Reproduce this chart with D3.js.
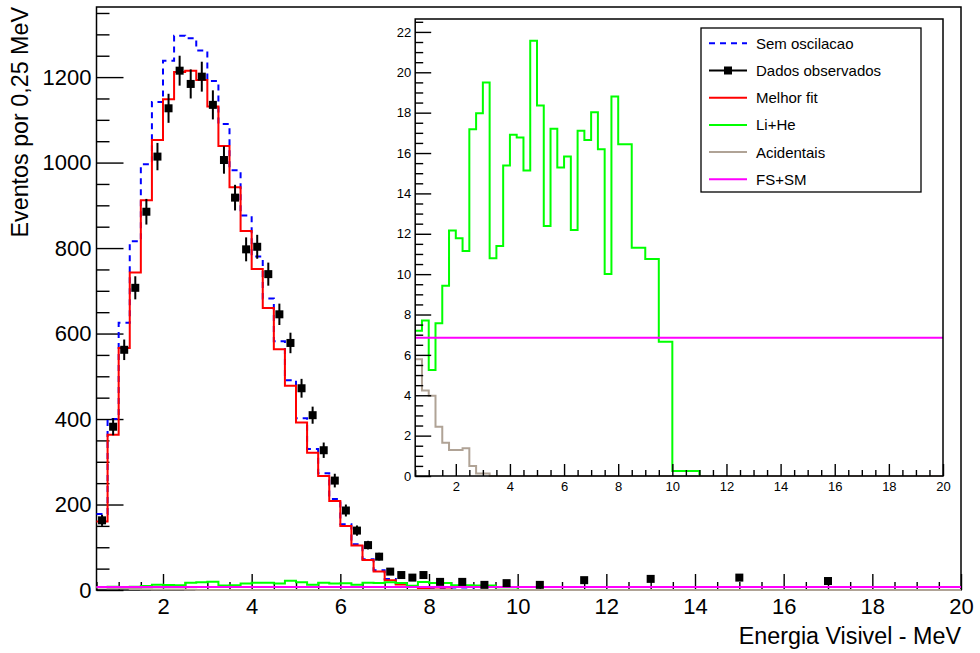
<!DOCTYPE html>
<html>
<head>
<meta charset="utf-8">
<style>
  body { margin: 0; background: #fff; }
  svg text { font-family: "Liberation Sans", Arial, sans-serif; fill: #000; }
</style>
</head>
<body>
<div id="chart"></div>
<script src="https://d3js.org/d3.v7.min.js"></script>
<script>
  // bin edges in MeV (0.25 MeV bins up to 8 MeV, wider after)
  const edges = [0.5, 0.75, 1, 1.25, 1.5, 1.75, 2, 2.25, 2.5, 2.75, 3, 3.25, 3.5, 3.75, 4, 4.25,
    4.5, 4.75, 5, 5.25, 5.5, 5.75, 6, 6.25, 6.5, 6.75, 7, 7.25, 7.5, 7.75, 8,
    8.5, 9, 9.5, 10, 11, 12, 14, 16, 18, 20];

  const semOscilacao = [178, 400, 625, 816, 996, 1142, 1238, 1297, 1291, 1262, 1191, 1090, 982, 876, 780,
    682, 582, 491, 402, 330, 273, 213, 154, 107, 72, 46, 26, 15, 9, 5, 2, 1, 0, 0, 0, 0, 0, 0, 0, 0];
  const melhorFit = [160, 363, 566, 743, 912, 1053, 1148, 1212, 1215, 1193, 1131, 1039, 942, 840, 751,
    660, 563, 478, 392, 321, 267, 208, 150, 104, 70, 43, 23, 13, 7, 4, 1, 0, 0, 0, 0, 0, 0, 0, 0, 0];
  const dados = [163, 382, 562, 707, 885, 1014, 1127, 1215, 1184, 1201, 1135, 1006, 918, 797, 803,
    739, 645, 578, 472, 409, 327, 256, 186, 139, 105, 78, 43, 35, 29, 35, 19, 19, 12, 16, 12, 23, 26, 29, 21, null];
  const dadosErro = [13, 20, 24, 27, 30, 32, 34, 35, 34, 35, 34, 32, 30, 28, 28, 27, 25, 24, 22, 20,
    18, 16, 14, 12, 10, 9, 7, 6, 5, 6, 4, 4, 3, 4, 3, 5, 5, 5, 5, 0];
  const liHe = [7.2, 7.7, 5.25, 7.57, 9.43, 12.16, 11.78, 11.15, 17.18, 17.97, 19.49, 10.79, 11.4, 15.38,
    16.9, 16.77, 15.13, 21.56, 18.35, 12.39, 17.2, 15.28, 15.83, 12.19, 17.1, 16.65, 18.02, 16.19, 10.01,
    18.8, 16.44, 11.31, 10.75, 6.65, 0.25, 0, 0, 0, 0, 0];
  const acidentais = [5.78, 4.23, 3.98, 2.44, 1.65, 1.29, 1.29, 1.37, 0.5, 0.13, 0.13, 0, 0, 0, 0, 0, 0,
    0, 0, 0, 0, 0, 0, 0, 0, 0, 0, 0, 0, 0, 0, 0, 0, 0, 0, 0, 0, 0, 0, 0];
  const fsSm = [6.85, 6.85, 6.85, 6.85, 6.85, 6.85, 6.85, 6.85, 6.85, 6.85, 6.85, 6.85, 6.85, 6.85,
    6.85, 6.85, 6.85, 6.85, 6.85, 6.85, 6.85, 6.85, 6.85, 6.85, 6.85, 6.85, 6.85, 6.85, 6.85, 6.85,
    6.85, 6.85, 6.85, 6.85, 6.85, 6.85, 6.85, 6.85, 6.85, 6.85];

  const mainXTicks = [2, 4, 6, 8, 10, 12, 14, 16, 18, 20];
  const mainYTicks = [0, 200, 400, 600, 800, 1000, 1200];
  const insetXTicks = [2, 4, 6, 8, 10, 12, 14, 16, 18, 20];
  const insetYTicks = [0, 2, 4, 6, 8, 10, 12, 14, 16, 18, 20, 22];

  const legendItems = [
    { label: "Sem oscilacao", color: "#0000ff", dash: "6,5", marker: false },
    { label: "Dados observados", color: "#000", dash: null, marker: true },
    { label: "Melhor fit", color: "#ff0000", dash: null, marker: false },
    { label: "Li+He", color: "#00ff00", dash: null, marker: false },
    { label: "Acidentais", color: "#b0a396", dash: null, marker: false },
    { label: "FS+SM", color: "#ff00ff", dash: null, marker: false }
  ];

  const W = 980, H = 653;
  const svg = d3.select("#chart").append("svg")
    .attr("width", W).attr("height", H);

  // scales
  const x = d3.scaleLinear().domain([0.5, 20]).range([96.5, 961]);
  const y = d3.scaleLinear().domain([0, 1364]).range([590, 7]);
  const xi = d3.scaleLinear().domain([0.5, 20]).range([415.2, 943]);
  const yi = d3.scaleLinear().domain([0, 22.64]).range([476, 19]);

  const histPath = (values, sx, sy) => {
    const pts = values.map((v, i) => [edges[i], v]);
    pts.push([edges[edges.length - 1], values[values.length - 1]]);
    const line = d3.line()
      .x(d => sx(d[0]))
      .y(d => sy(d[1]))
      .curve(d3.curveStepAfter);
    return line(pts);
  };

  const drawAxes = (g, sx, sy, xTicks, yTicks, opt) => {
    const [x0, x1] = sx.range();
    const [y0, y1] = sy.range();
    const xMinor = d3.range(0.5, 20.001, 0.5).filter(v => !xTicks.includes(v));
    const yMax = sy.domain()[1];
    const yMinor = d3.range(0, yMax, opt.yMinorStep).filter(v => !yTicks.includes(v));

    const ax = g.append("g").attr("transform", "translate(0," + y0 + ")");
    ax.append("g").call(d3.axisBottom(sx).tickValues(xMinor).tickSize(-opt.xMinorLen).tickSizeOuter(0).tickFormat(""));
    ax.append("g").call(d3.axisBottom(sx).tickValues(xTicks).tickSize(-opt.xMajorLen).tickSizeOuter(0)
      .tickPadding(opt.xPad).tickFormat(d3.format("d")));

    const ay = g.append("g").attr("transform", "translate(" + x0 + ",0)");
    ay.append("g").call(d3.axisLeft(sy).tickValues(yMinor).tickSize(-opt.yMinorLen).tickSizeOuter(0).tickFormat(""));
    ay.append("g").call(d3.axisLeft(sy).tickValues(yTicks).tickSize(-opt.yMajorLen).tickSizeOuter(0)
      .tickPadding(opt.yPad).tickFormat(d3.format("d")));

    g.selectAll(".domain").remove();
    g.selectAll(".tick line").attr("stroke", "#000").attr("stroke-width", 1.4);
    g.selectAll(".tick text").style("font-size", opt.font + "px")
      .style("font-family", "'Liberation Sans', Arial, sans-serif");

    g.append("rect")
      .attr("x", x0).attr("y", y1)
      .attr("width", x1 - x0).attr("height", y0 - y1)
      .attr("fill", "none").attr("stroke", "#000").attr("stroke-width", 1.5);
  };

  // ---------------- main plot ----------------
  const main = svg.append("g");
  drawAxes(main, x, y, mainXTicks, mainYTicks, {
    yMinorStep: 50, xMinorLen: 8, xMajorLen: 16, yMinorLen: 13, yMajorLen: 27,
    xPad: 8, yPad: 5, font: 22
  });

  const drawHist = (g, values, sx, sy, color, dash) => {
    g.append("path")
      .attr("d", histPath(values, sx, sy))
      .attr("fill", "none")
      .attr("stroke", color)
      .attr("stroke-width", 2)
      .attr("stroke-dasharray", dash);
  };

  drawHist(main, semOscilacao, x, y, "#0000ff", "6,5");
  drawHist(main, melhorFit, x, y, "#ff0000", null);
  drawHist(main, liHe, x, y, "#00ff00", null);
  drawHist(main, acidentais, x, y, "#b0a396", null);
  drawHist(main, fsSm, x, y, "#ff00ff", null);

  const pts = dados.map((v, i) => ({ c: (edges[i] + edges[i + 1]) / 2, v: v, e: dadosErro[i] }))
    .filter(d => d.v !== null);

  main.selectAll("line.err").data(pts).enter().append("line")
    .attr("class", "err")
    .attr("x1", d => x(d.c)).attr("x2", d => x(d.c))
    .attr("y1", d => y(d.v - d.e)).attr("y2", d => y(d.v + d.e))
    .attr("stroke", "#000").attr("stroke-width", 2);

  main.selectAll("rect.pt").data(pts).enter().append("rect")
    .attr("class", "pt")
    .attr("x", d => x(d.c) - 4).attr("y", d => y(d.v) - 4)
    .attr("width", 8).attr("height", 8)
    .attr("fill", "#000");

  main.append("text")
    .attr("x", 961).attr("y", 644)
    .attr("text-anchor", "end")
    .style("font-size", "23.3px")
    .text("Energia Visivel - MeV");

  main.append("text")
    .attr("transform", "translate(28,7) rotate(-90)")
    .attr("text-anchor", "end")
    .style("font-size", "23.3px")
    .text("Eventos por 0,25 MeV");

  // ---------------- inset ----------------
  const inset = svg.append("g");
  inset.append("rect")
    .attr("x", 415.2).attr("y", 19).attr("width", 943 - 415.2).attr("height", 476 - 19)
    .attr("fill", "#fff");

  drawHist(inset, liHe, xi, yi, "#00ff00", null);
  drawHist(inset, fsSm, xi, yi, "#ff00ff", null);
  drawHist(inset, acidentais, xi, yi, "#b0a396", null);

  drawAxes(inset, xi, yi, insetXTicks, insetYTicks, {
    yMinorStep: 0.5, xMinorLen: 6, xMajorLen: 12, yMinorLen: 8, yMajorLen: 16,
    xPad: 6, yPad: 4, font: 13
  });

  // ---------------- legend ----------------
  const leg = svg.append("g");
  leg.append("rect")
    .attr("x", 701).attr("y", 28).attr("width", 220).attr("height", 164)
    .attr("fill", "#fff").attr("stroke", "#000").attr("stroke-width", 1.3);

  legendItems.forEach((it, i) => {
    const cy = 43.3 + i * 27.2;
    leg.append("line")
      .attr("x1", 709).attr("x2", 747).attr("y1", cy).attr("y2", cy)
      .attr("stroke", it.color).attr("stroke-width", 2)
      .attr("stroke-dasharray", it.dash);
    if (it.marker) {
      leg.append("rect")
        .attr("x", 724).attr("y", cy - 4).attr("width", 8).attr("height", 8)
        .attr("fill", "#000");
    }
    leg.append("text")
      .attr("x", 756).attr("y", cy).attr("dy", "0.36em")
      .style("font-size", "15px")
      .text(it.label);
  });
</script>
</body>
</html>
